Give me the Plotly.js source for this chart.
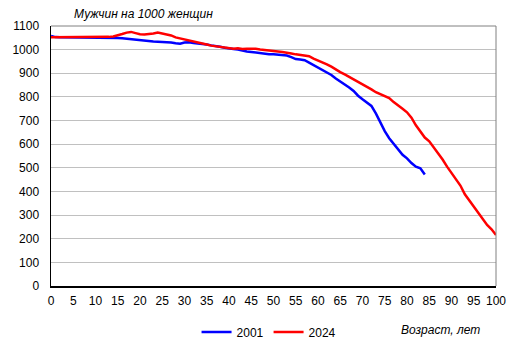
<!DOCTYPE html>
<html>
<head>
<meta charset="utf-8">
<script src="https://cdn.plot.ly/plotly-3.0.1.min.js"></script>
<style>html,body{margin:0;padding:0;background:#fff;}#chart{width:513px;height:355px;}</style>
</head>
<body>
<div id="chart"></div>
<script>
var ages2001 = [];
for (var i = 0; i <= 84; i++) ages2001.push(i);
var ages2024 = [];
for (var j = 0; j <= 100; j++) ages2024.push(j);

var values2001 = [1058,1053,1052,1052,1051,1050,1049,1049,1050,1049,
  1050,1049,1050,1050,1050,1049,1048,1046,1042,1039,
  1038,1037,1035,1034,1033,1032,1033,1030,1027,1025,
  1030,1031,1028,1027,1025,1022,1018,1016,1012,1008,
  1004,1003,1000,995,992,990,987,985,983,981,
  980,979,977,975,968,960,958,955,945,935,
  925,915,903,893,878,865,855,840,825,805,
  790,775,762,730,690,655,625,600,580,555,
  540,520,505,498,472];

var values2024 = [1052,1052,1052,1052,1052,1053,1052,1053,1055,1052,
  1053,1055,1053,1054,1056,1060,1066,1072,1075,1070,
  1065,1064,1065,1068,1072,1068,1064,1060,1052,1048,
  1045,1040,1036,1030,1026,1022,1017,1014,1010,1007,
  1005,1004,1006,1003,1004,1005,1004,1001,998,996,
  994,992,990,988,984,980,978,976,972,962,
  955,948,938,928,915,905,895,885,875,863,
  852,842,832,820,812,806,795,778,765,750,
  735,712,680,652,628,612,588,560,535,505,
  478,452,425,388,362,335,310,282,258,240,
  216];

var seriesNames = ['2001', '2024'];
var xTicks = [];
for (var k = 0; k <= 100; k += 5) xTicks.push(k);

var font = 'Arial, "Liberation Sans", sans-serif';

var traces = [
  {x: ages2001, y: values2001, name: seriesNames[0], type: 'scatter', mode: 'lines',
   line: {color: '#0000FF', width: 2.5}},
  {x: ages2024, y: values2024, name: seriesNames[1], type: 'scatter', mode: 'lines',
   line: {color: '#FF0000', width: 2.5}}
];

var layout = {
  width: 513, height: 355,
  margin: {l: 51, r: 17, t: 26, b: 69, autoexpand: false},
  paper_bgcolor: '#fff', plot_bgcolor: '#fff',
  font: {family: font, size: 12, color: '#000'},
  showlegend: true,
  legend: {orientation: 'h', x: 0.49, xanchor: 'center', y: -0.177, yanchor: 'middle',
    font: {family: font, size: 12, color: '#000'}, itemwidth: 30, tracegroupgap: 0},
  xaxis: {range: [0, 100], tickvals: xTicks, ticktext: xTicks.map(String),
    showgrid: false, zeroline: false, showline: true, linecolor: '#000', linewidth: 1.5,
    ticks: '', ticklabelstandoff: 3, fixedrange: true},
  yaxis: {range: [0, 1100], dtick: 100, tick0: 0,
    showgrid: true, gridcolor: '#C0C0C0', gridwidth: 1, zeroline: false,
    showline: true, linecolor: '#000', linewidth: 1.5,
    ticks: '', ticklabelstandoff: 8, fixedrange: true},
  shapes: [
    {type: 'line', xref: 'paper', yref: 'paper', x0: 0, x1: 1, y0: 1, y1: 1,
     line: {color: '#808080', width: 1}},
    {type: 'line', xref: 'paper', yref: 'paper', x0: 1, x1: 1, y0: 0, y1: 1,
     line: {color: '#808080', width: 1}}
  ],
  annotations: [
    {text: 'Мужчин на 1000 женщин', xref: 'paper', yref: 'paper', x: (72 - 51) / 445, y: 1,
     xanchor: 'left', yanchor: 'bottom', yshift: 3, showarrow: false,
     font: {family: font, size: 12, color: '#000', style: 'italic'}},
    {text: 'Возраст, лет', xref: 'paper', yref: 'paper', x: (482 - 51) / 445, y: -0.169,
     xanchor: 'right', yanchor: 'middle', showarrow: false,
     font: {family: font, size: 12, color: '#000', style: 'italic'}}
  ]
};

Plotly.newPlot('chart', traces, layout, {displayModeBar: false, staticPlot: true});
</script>
</body>
</html>
